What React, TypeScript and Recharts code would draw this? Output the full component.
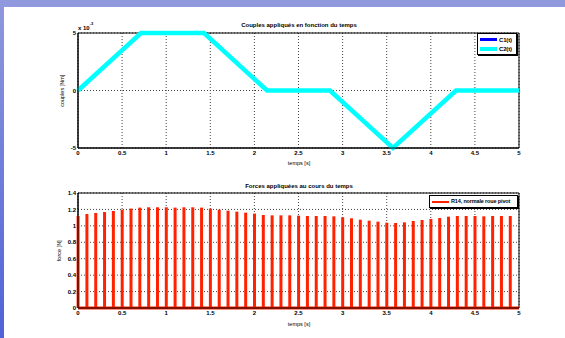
import React from 'react';
import {
  LineChart,
  ComposedChart,
  Line,
  Bar,
  XAxis,
  YAxis,
  CartesianGrid,
  Legend,
  ReferenceLine,
  ReferenceArea,
} from 'recharts';

// couples (top plot), values in Nm
const coupleTime = [0, 0.714, 1.429, 2.143, 2.857, 3.571, 4.286, 5];
const c1Values = [0, 0.005, 0.005, 0, 0, -0.005, 0, 0];
const c2Values = [0, 0.005, 0.005, 0, 0, -0.005, 0, 0];
const coupleTicks = [-0.005, 0, 0.005];

// forces (bottom plot), values in N
const forceTime = [
  0, 0.1, 0.2, 0.3, 0.4, 0.5, 0.6, 0.7, 0.8, 0.9,
  1, 1.1, 1.2, 1.3, 1.4, 1.5, 1.6, 1.7, 1.8, 1.9,
  2, 2.1, 2.2, 2.3, 2.4, 2.5, 2.6, 2.7, 2.8, 2.9,
  3, 3.1, 3.2, 3.3, 3.4, 3.5, 3.6, 3.7, 3.8, 3.9,
  4, 4.1, 4.2, 4.3, 4.4, 4.5, 4.6, 4.7, 4.8, 4.9,
];
const r14Values = [
  1.12, 1.145, 1.157, 1.169, 1.181, 1.197, 1.21, 1.222, 1.226, 1.226,
  1.226, 1.222, 1.226, 1.226, 1.222, 1.21, 1.197, 1.185, 1.173, 1.161,
  1.149, 1.132, 1.128, 1.128, 1.128, 1.124, 1.12, 1.12, 1.12, 1.116,
  1.104, 1.092, 1.075, 1.063, 1.051, 1.039, 1.035, 1.043, 1.059, 1.071,
  1.084, 1.096, 1.112, 1.12, 1.12, 1.12, 1.116, 1.12, 1.12, 1.12,
];
const forceTicks = [0, 0.2, 0.4, 0.6, 0.8, 1, 1.2, 1.4];

const timeTicks = [0, 0.5, 1, 1.5, 2, 2.5, 3, 3.5, 4, 4.5, 5];

const coupleData = coupleTime.map((t, i) => ({ t, c1: c1Values[i], c2: c2Values[i] }));
const forceData = forceTime.map((t, i) => ({ t, r14: r14Values[i] }));

const FONT = '"Liberation Sans", Arial, sans-serif';
const tickStyle = { fontSize: 6, fontWeight: 'bold', fill: '#000', fontFamily: FONT };
const RED = '#ff2200';

const text = (extra: React.CSSProperties): React.CSSProperties => ({
  position: 'absolute',
  fontFamily: FONT,
  fontSize: 6,
  color: '#000',
  whiteSpace: 'nowrap',
  lineHeight: 1,
  ...extra,
});

const LegendBox = ({ items, width, fontSize }: { items: { name: string; color: string; w: number }[]; width: number; fontSize: number }) => (
  <div
    style={{
      width,
      border: '1px solid #000',
      boxShadow: '1px 1px 0 #000',
      background: '#fff',
      padding: '1px 2px',
      boxSizing: 'border-box',
      fontFamily: FONT,
      fontSize,
      fontWeight: 'bold',
      whiteSpace: 'nowrap',
      lineHeight: 1,
      overflow: 'hidden',
    }}
  >
    {items.map((it) => (
      <div key={it.name} style={{ display: 'flex', alignItems: 'center', height: 9 }}>
        <span style={{ display: 'inline-block', flex: 'none', width: 17, height: it.w, background: it.color, marginRight: 2 }} />
        <span style={{ letterSpacing: -0.15 }}>{it.name}</span>
      </div>
    ))}
  </div>
);

export default function App() {
  return (
    <div style={{ position: 'absolute', left: 0, top: 0, width: 565, height: 338, background: '#fff', overflow: 'hidden' }}>
      <div style={{ position: 'absolute', left: 0, top: 0, width: 565, height: 7, background: '#9099dd' }} />
      <div style={{ position: 'absolute', left: 0, top: 0, width: 4, height: 338, background: 'linear-gradient(#9099dd, #5062d8)' }} />

      <div style={{ position: 'absolute', left: 0, top: 0 }}>
        <LineChart width={565} height={170} data={coupleData} margin={{ top: 33, left: 66, right: 46, bottom: 10 }}>
          <CartesianGrid stroke="#444" strokeDasharray="1 2" />
          <XAxis
            dataKey="t"
            type="number"
            domain={[0, 5]}
            ticks={timeTicks}
            interval={0}
            height={12}
            tickLine={false}
            tickSize={0}
            tickMargin={3}
            tick={tickStyle}
            axisLine={{ stroke: '#000' }}
          />
          <YAxis
            type="number"
            domain={[-0.005, 0.005]}
            ticks={coupleTicks}
            interval={0}
            width={12}
            tickLine={false}
            tickSize={0}
            tickMargin={2}
            tick={tickStyle}
            tickFormatter={(v: number) => String(Math.round(v * 1000))}
            axisLine={{ stroke: '#000' }}
          />
          <ReferenceArea x1={0} x2={5} y1={-0.005} y2={0.005} fill="none" stroke="#000" strokeWidth={1} />
          <Line type="linear" dataKey="c1" name="C1(t)" stroke="#0000ff" strokeWidth={3} dot={false} isAnimationActive={false} />
          <Line type="linear" dataKey="c2" name="C2(t)" stroke="#00ffff" strokeWidth={4.5} dot={false} isAnimationActive={false} />
          <Legend
            layout="horizontal"
            verticalAlign="middle"
            align="center"
            wrapperStyle={{ left: 477, top: 33, width: 40 }}
            content={() => (
              <LegendBox
                width={40}
                fontSize={6}
                items={[
                  { name: 'C1(t)', color: '#0000ff', w: 3 },
                  { name: 'C2(t)', color: '#00ffff', w: 4 },
                ]}
              />
            )}
          />
        </LineChart>
      </div>

      <div style={{ position: 'absolute', left: 0, top: 170 }}>
        <ComposedChart width={565} height={168} data={forceData} margin={{ top: 23, left: 66, right: 46, bottom: 18 }}>
          <CartesianGrid stroke="#444" strokeDasharray="1 2" />
          <XAxis
            dataKey="t"
            type="number"
            domain={[0, 5]}
            ticks={timeTicks}
            interval={0}
            height={12}
            tickLine={false}
            tickSize={0}
            tickMargin={3}
            tick={tickStyle}
            axisLine={{ stroke: '#000' }}
          />
          <YAxis
            type="number"
            domain={[0, 1.4]}
            ticks={forceTicks}
            interval={0}
            width={12}
            tickLine={false}
            tickSize={0}
            tickMargin={2}
            tick={tickStyle}
            axisLine={{ stroke: '#000' }}
          />
          <ReferenceArea x1={0} x2={5} y1={0} y2={1.4} fill="none" stroke="#000" strokeWidth={1} />
          <Bar dataKey="r14" name="R14, normale roue pivot" fill={RED} barSize={3} isAnimationActive={false} />
          <ReferenceLine y={0} stroke={RED} strokeWidth={3} />
          <Legend
            layout="horizontal"
            verticalAlign="middle"
            align="center"
            wrapperStyle={{ left: 429, top: 25, width: 89 }}
            content={() => (
              <LegendBox width={89} fontSize={5.5} items={[{ name: 'R14, normale roue pivot', color: RED, w: 2 }]} />
            )}
          />
        </ComposedChart>
      </div>

      <div style={text({ left: 199, width: 200, top: 22, textAlign: 'center', fontWeight: 'bold' })}>
        Couples appliqués en fonction du temps
      </div>
      <div style={text({ left: 199, width: 200, top: 183, textAlign: 'center', fontWeight: 'bold' })}>
        Forces appliquées au cours du temps
      </div>
      <div style={text({ left: 199, width: 200, top: 161, textAlign: 'center', fontSize: 5.5 })}>temps [s]</div>
      <div style={text({ left: 199, width: 200, top: 322, textAlign: 'center', fontSize: 5.5 })}>temps [s]</div>
      <div style={text({ left: 78, top: 25, fontWeight: 'bold' })}>
        x 10<sup style={{ fontSize: 4, verticalAlign: 'top', position: 'relative', top: -3 }}>-3</sup>
      </div>
      <div style={text({ left: 23, width: 80, top: 88, textAlign: 'center', fontSize: 5.5, transform: 'rotate(-90deg)' })}>
        couples [Nm]
      </div>
      <div style={text({ left: 20, width: 80, top: 248, textAlign: 'center', fontSize: 5.5, transform: 'rotate(-90deg)' })}>
        force [N]
      </div>
    </div>
  );
}
